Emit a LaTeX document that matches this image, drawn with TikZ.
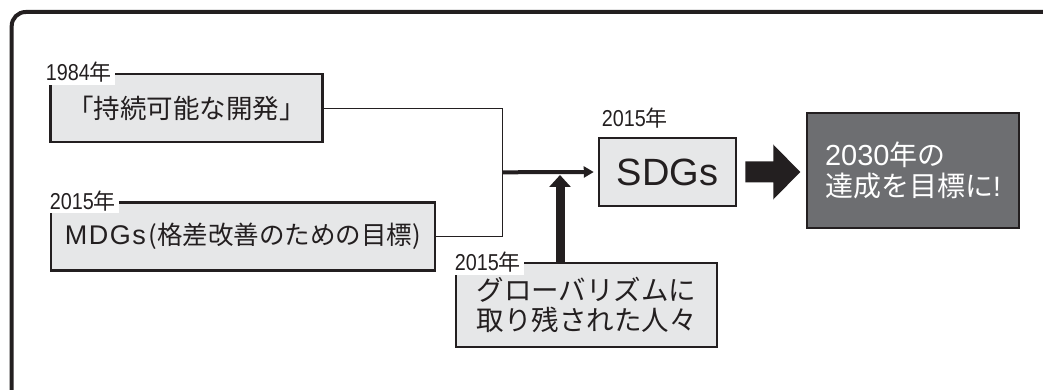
\documentclass[tikz,border=0pt]{standalone}
\usepackage{fontspec}
\setmainfont{Noto Sans CJK JP}
\newfontfamily\lat{Liberation Sans}
\newfontfamily\latc[FakeStretch=0.86]{Liberation Sans}
\usetikzlibrary{arrows.meta,calc}
\definecolor{ink}{HTML}{231F20}
\definecolor{boxgray}{HTML}{E6E7E8}
\definecolor{goalgray}{HTML}{6D6E71}
\newcommand{\yr}[1]{{\latc\fontsize{23}{26}\selectfont #1}{\fontsize{22}{26}\selectfont 年}}
\tikzset{
  box/.style={draw=ink, line width=2.5pt, fill=boxgray, inner sep=0pt, text=ink, align=center},
  goalbox/.style={draw=ink, line width=2.5pt, fill=goalgray, inner sep=0pt, text=white, align=left},
  yearlabel/.style={anchor=base west, fill=white, inner xsep=3pt, inner ysep=2pt, text=ink},
  thinline/.style={draw=ink, line width=1.3pt},
  thickarrow/.style={draw=ink, line width=4pt, -{Triangle[length=10pt,width=11pt]}},
  bigarrow/.style={draw=ink, line width=9pt, -{Triangle[length=12pt,width=21pt]}},
  frameline/.style={draw=ink, line width=4pt, rounded corners=14pt},
}
\begin{document}
\begin{tikzpicture}[x=1pt,y=-1pt]
\useasboundingbox (0,0) rectangle (1043,390);
\clip (0,0) rectangle (1043,390);
% outer frame (cropped)
\draw[frameline] (11.7,430) -- (11.7,12) -- (1090,12);

% boxes
\node[box, minimum width=272pt, minimum height=68pt, font=\fontsize{26.5}{30}\selectfont] (b1) at (186.7,108.2) {「持続可能な開発」};
\node[box, minimum width=384.3pt, minimum height=68pt, font=\fontsize{25.5}{30}\selectfont] (b2) at (243,236.7) {{\lat\fontsize{27}{30}\selectfont M\hspace{1.5pt}D\hspace{1.5pt}G\hspace{1.5pt}s}\hspace{3pt}(格差改善のための目標)};
\node[box, minimum width=137pt, minimum height=68pt, font=\lat\fontsize{38}{40}\selectfont] (sdgs) at (667.5,172) {SDGs};
\node[box, minimum width=261pt, minimum height=84pt, font=\fontsize{27.5}{30}\selectfont] (b3) at (586.5,305) {グローバリズムに\\取り残された人々};
\node[goalbox, minimum width=212pt, minimum height=115pt, font=\fontsize{28}{31}\selectfont] (goal) at (913,170.5) {{\lat\fontsize{29}{31}\selectfont 2030}年の\\達成を目標に{\lat !}};

% connectors
\coordinate (jx) at (502.3,172.3);
\coordinate (vtip) at (560,175);
\draw[thinline] (b1.east) -| (jx) |- (b2.east);
\draw[thickarrow, shorten >=4pt] (jx) -- (sdgs.west);
\draw[bigarrow] (vtip |- b3.north) -- (vtip);
\fill[ink] ([xshift=8pt]sdgs.east) ++(0,-10.5) -- ++(28,0) -- ++(0,-17) -- ++(27,27.5) -- ++(-27,27.5) -- ++(0,-17) -- ++(-28,0) -- cycle;

% year labels
\node[yearlabel] (l1) at ([shift={(-6.7,8)}]b1.north west) {\yr{1984}};
\node[yearlabel] (l2) at ([shift={(-3,8)}]b2.north west) {\yr{2015}};
\node[yearlabel] (l3) at ([shift={(-3,9)}]b3.north west) {\yr{2015}};
\node[yearlabel, fill=none] (l4) at ([shift={(1,-10)}]sdgs.north west) {\yr{2015}};
\end{tikzpicture}
\end{document}
